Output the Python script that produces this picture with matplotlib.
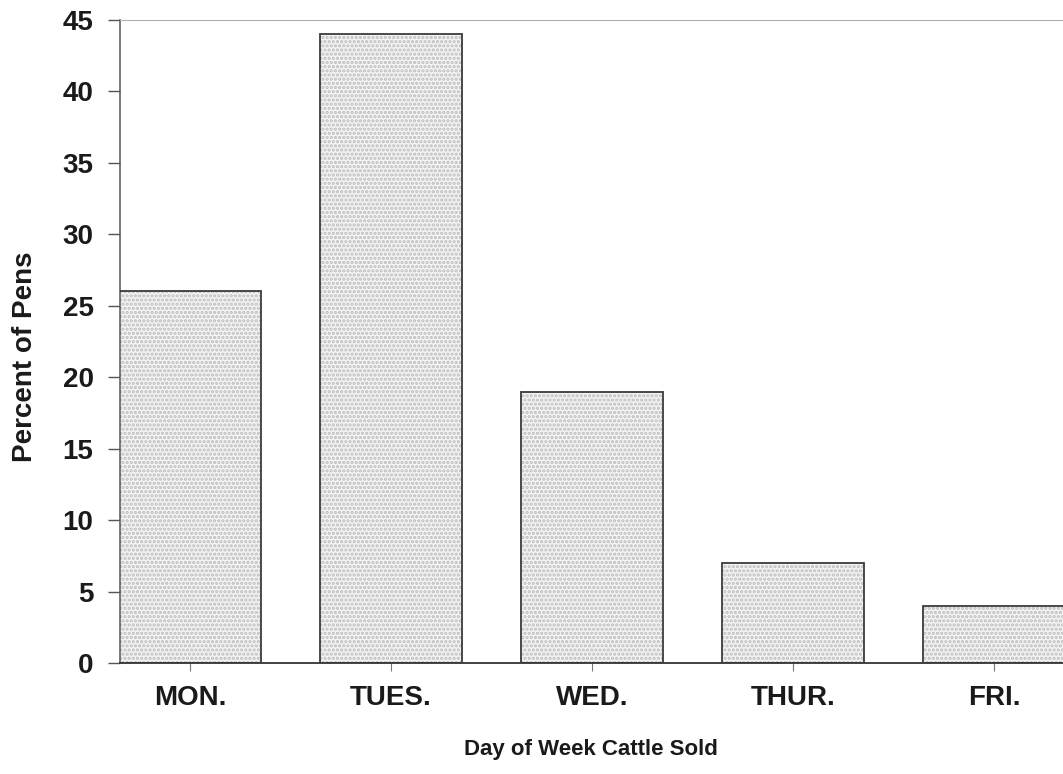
import matplotlib
matplotlib.use("Agg")
import matplotlib.pyplot as plt

# data
days = ["MON.", "TUES.", "WED.", "THUR.", "FRI."]
percent = [26, 44, 19, 7, 4]
yticks = [0, 5, 10, 15, 20, 25, 30, 35, 40, 45]

plt.rcParams['font.family'] = ['Liberation Sans', 'DejaVu Sans']
plt.rcParams['hatch.linewidth'] = 1.6

fig = plt.figure(figsize=(10.63, 7.74), dpi=100)
ax = fig.add_axes([120/1063, 1 - 663/774, 1 - 120/1063, (663 - 20)/774])

x = range(len(days))
# dotted fill first, then the outline on top
ax.bar(x, percent, width=0.71, color="#f4f4f4", hatch="....",
       edgecolor="#bdbdbd", linewidth=0, zorder=2)
ax.bar(x, percent, width=0.71, fill=False, edgecolor="#3c3c3c",
       linewidth=1.3, zorder=3)

ax.set_xlim(-0.348, 4.343)
ax.set_ylim(0, 45)
ax.set_yticks(yticks)
ax.set_xticks(list(x))
ax.set_xticklabels(days)

ax.spines["right"].set_visible(False)
ax.spines["top"].set_color("#b0b0b0")
ax.spines["left"].set_color("#555555")
ax.spines["bottom"].set_color("#333333")
ax.spines["bottom"].set_linewidth(1.3)
ax.spines["left"].set_linewidth(1.1)

ax.tick_params(axis="y", length=9, width=1.0, color="#555555", pad=10,
               labelsize=20)
ax.tick_params(axis="x", length=6, width=0.8, color="#777777", pad=10,
               labelsize=20)
for lab in ax.get_xticklabels() + ax.get_yticklabels():
    lab.set_fontweight("bold")
    lab.set_color("#1a1a1a")

fig.text(25/1063, 1 - 357/774, "Percent of Pens", rotation=90, fontsize=20,
         fontweight="bold", ha="center", va="center", color="#1a1a1a")
fig.text(591/1063, 1 - 750/774, "Day of Week Cattle Sold", fontsize=16,
         fontweight="bold", ha="center", va="center", color="#1a1a1a")

fig.savefig("out.png", dpi=100)
